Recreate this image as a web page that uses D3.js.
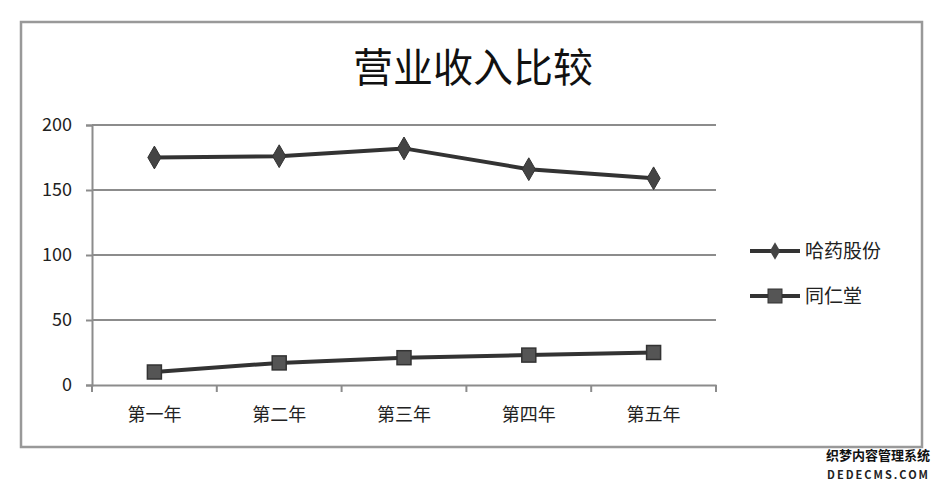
<!DOCTYPE html>
<html><head><meta charset="utf-8">
<script src="https://cdn.jsdelivr.net/npm/d3@7"></script>
<style>body{margin:0;background:#fff;}text{font-family:"Noto Sans CJK SC","DejaVu Sans",sans-serif;}</style>
</head><body>
<svg id="c" width="938" height="485"></svg>
<script>
const title = "营业收入比较";
const categories = ["第一年","第二年","第三年","第四年","第五年"];
const seriesNames = ["哈药股份","同仁堂"];
const hayao = [175, 176, 182, 166, 159];
const tongrentang = [10, 17, 21, 23, 25];
const yTicks = [0, 50, 100, 150, 200];

const svg = d3.select("#c");
const m = {l:92, r:716, t:125, b:385};
svg.append("rect").attr("x",21).attr("y",22).attr("width",901).attr("height",425)
  .attr("fill","#fff").attr("stroke","#999").attr("stroke-width",2.5);

svg.append("text").attr("x",473).attr("y",82).attr("text-anchor","middle")
  .attr("font-size",40).attr("fill","#111").text(title);

const x = d3.scaleBand().domain(categories).range([m.l, m.r]);
const y = d3.scaleLinear().domain([0,200]).range([m.b, m.t]);

svg.append("g").selectAll("line").data(yTicks.filter(d=>d>0)).join("line")
  .attr("x1",m.l).attr("x2",m.r).attr("y1",d=>y(d)).attr("y2",d=>y(d))
  .attr("stroke","#8c8c8c").attr("stroke-width",2);

const ya = svg.append("g").attr("transform",`translate(${m.l},0)`)
  .call(d3.axisLeft(y).tickValues(yTicks).tickSize(6).tickPadding(14));
ya.select(".domain").attr("stroke","#8c8c8c").attr("stroke-width",2);
ya.selectAll(".tick line").attr("stroke","#8c8c8c").attr("stroke-width",2);
ya.selectAll("text").attr("font-size",18).attr("fill","#222").attr("font-family","'DejaVu Sans',sans-serif");

const xa = svg.append("g").attr("transform",`translate(0,${m.b})`)
  .call(d3.axisBottom(x).tickSize(0).tickPadding(23));
xa.select(".domain").attr("stroke","#8c8c8c").attr("stroke-width",2);
xa.selectAll("text").attr("font-size",18).attr("fill","#222");
svg.append("g").selectAll("line").data(categories.concat([null])).join("line")
  .attr("x1",(d,i)=>m.l + i*x.step()).attr("x2",(d,i)=>m.l + i*x.step())
  .attr("y1",m.b).attr("y2",m.b+7).attr("stroke","#8c8c8c").attr("stroke-width",2);

const line = d3.line().x((d,i)=>x(categories[i])+x.bandwidth()/2).y(d=>y(d));
const col = "#333";
svg.append("path").datum(hayao).attr("d",line).attr("fill","none").attr("stroke",col).attr("stroke-width",4);
svg.append("path").datum(tongrentang).attr("d",line).attr("fill","none").attr("stroke",col).attr("stroke-width",4);

const diamond = d3.symbol().type(d3.symbolDiamond).size(150);
svg.append("g").selectAll("path").data(hayao).join("path")
  .attr("d",diamond).attr("transform",(d,i)=>`translate(${x(categories[i])+x.bandwidth()/2},${y(d)})`)
  .attr("fill","#444").attr("stroke","#333").attr("stroke-width",1);
svg.append("g").selectAll("rect").data(tongrentang).join("rect")
  .attr("x",(d,i)=>x(categories[i])+x.bandwidth()/2-7).attr("y",d=>y(d)-7)
  .attr("width",14).attr("height",14).attr("fill","#555").attr("stroke","#333").attr("stroke-width",1.5);

const lg = svg.append("g");
const ly = [251, 296];
seriesNames.forEach((n,i)=>{
  lg.append("line").attr("x1",750).attr("x2",800).attr("y1",ly[i]).attr("y2",ly[i]).attr("stroke",col).attr("stroke-width",4);
  if(i===0) lg.append("path").attr("d",d3.symbol().type(d3.symbolDiamond).size(90)).attr("transform",`translate(775,${ly[i]})`).attr("fill","#444");
  else lg.append("rect").attr("x",768).attr("y",ly[i]-7).attr("width",14).attr("height",14).attr("fill","#555").attr("stroke","#333");
  lg.append("text").attr("x",805).attr("y",ly[i]+7).attr("font-size",19).attr("fill","#222").text(n);
});

svg.append("text").attr("x",930).attr("y",460).attr("text-anchor","end").attr("font-size",13).attr("font-weight","bold").attr("fill","#111").text("织梦内容管理系统");
svg.append("text").attr("x",930).attr("y",479).attr("text-anchor","end").attr("font-size",11).attr("font-weight","bold").attr("fill","#222").attr("letter-spacing",2).attr("font-family","'DejaVu Sans Mono',monospace").text("DEDECMS.COM");
</script>
</body></html>
